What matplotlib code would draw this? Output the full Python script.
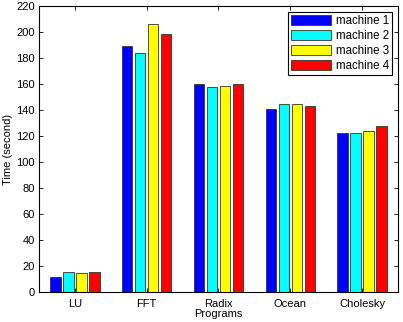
import numpy as np
import matplotlib.pyplot as plt

plt.rcParams['font.family'] = ['Liberation Sans', 'DejaVu Sans']
plt.rcParams['font.size'] = 8

programs = ["LU", "FFT", "Radix", "Ocean", "Cholesky"]
machines = ["machine 1", "machine 2", "machine 3", "machine 4"]
colors = ["#0000ff", "#00ffff", "#ffff00", "#ff0000"]

machine1 = [11.5, 189.5, 160.0, 141.0, 122.5]
machine2 = [15.5, 184.0, 157.5, 145.0, 122.0]
machine3 = [14.8, 206.0, 158.8, 145.0, 123.8]
machine4 = [15.3, 198.8, 160.2, 143.0, 128.0]
values = [machine1, machine2, machine3, machine4]

fig = plt.figure(figsize=(4.03, 3.22), dpi=100)
ax = fig.add_axes([39 / 403, 30 / 322, 359 / 403, 286 / 322])

x = np.arange(1, len(programs) + 1)
step = 0.727 / 4
width = 0.8 * step
for i, (vals, c, name) in enumerate(zip(values, colors, machines)):
    ax.bar(x + (i - 1.5) * step, vals, width, color=c, edgecolor='#333333',
           linewidth=0.6, label=name)

ax.set_xlim(0.5, 5.5)
ax.set_ylim(0, 220)
ax.set_yticks(range(0, 221, 20))
ax.set_xticks(x)
ax.set_xticklabels(programs)
ax.tick_params(direction='in', top=True, right=True, length=3, width=0.6)
ax.tick_params(axis='x', pad=5)
ax.tick_params(axis='y', pad=3)
for s in ax.spines.values():
    s.set_linewidth(0.8)
ax.set_xlabel("Programs", labelpad=0)
ax.set_ylabel("Time (second)", labelpad=2)

leg = ax.legend(loc='upper right', fancybox=False, framealpha=1,
                edgecolor='black', handlelength=3.5, handleheight=0.95,
                handletextpad=0.35, labelspacing=0.25, borderpad=0.3,
                borderaxespad=0.5, fontsize=8.3)
leg.get_frame().set_linewidth(0.8)

fig.savefig("out.png", dpi=100)
